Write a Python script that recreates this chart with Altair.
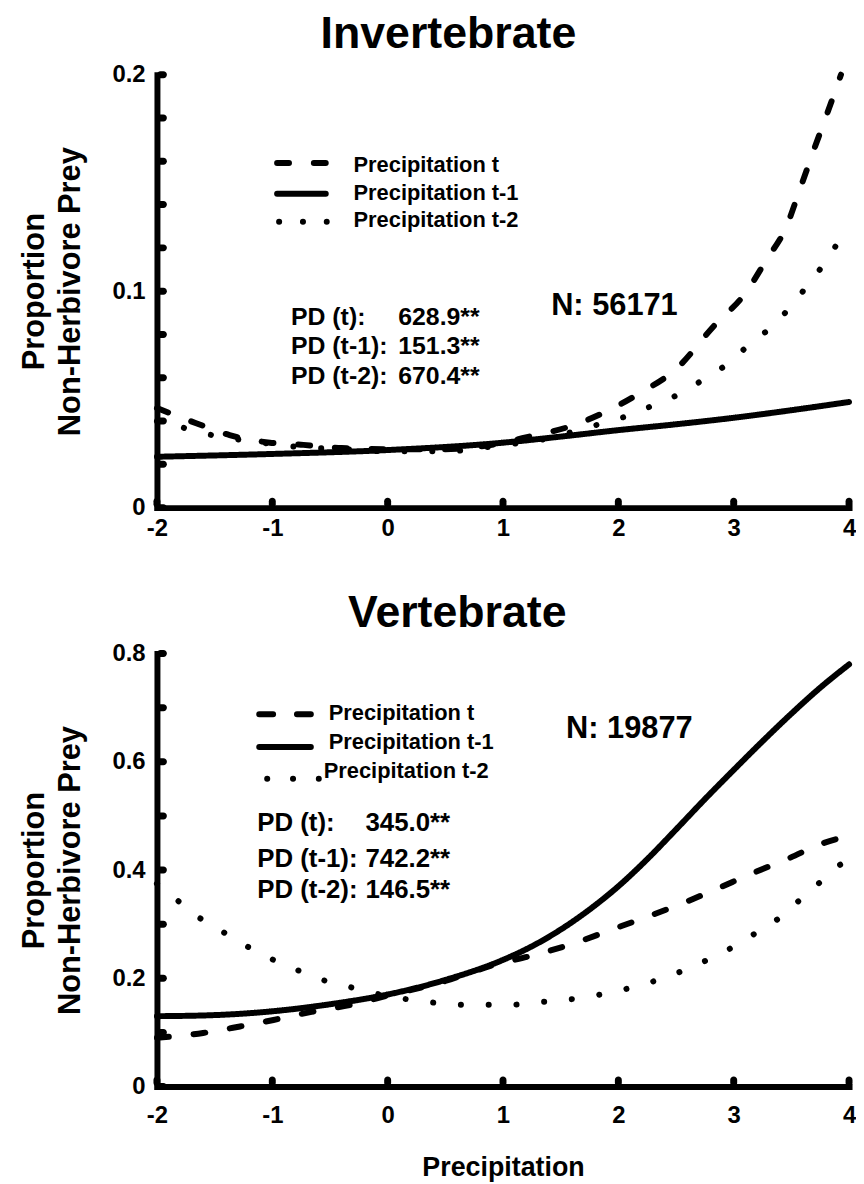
import altair as alt
import pandas as pd

FONT = "Liberation Sans"

# ---------------- data ----------------
series = ["Precipitation t", "Precipitation t-1", "Precipitation t-2"]
pd_labels = ["PD (t):", "PD (t-1):", "PD (t-2):"]

x_ticks = [-2, -1, 0, 1, 2, 3, 4]

# Invertebrate panel
inv_y_ticks = [0, 0.02, 0.04, 0.06, 0.08, 0.1, 0.12, 0.14, 0.16, 0.18, 0.2]
inv_y_labels = [0, 0.1, 0.2]
inv_t_x = [-2, -1.66, -1.37, -1.02, -0.73, -0.4, 0, 0.5, 1, 1.24, 1.55, 1.88, 2.19, 2.5, 2.83, 3.1, 3.29, 3.45, 3.58, 3.7, 3.81, 3.93]
inv_t_y = [0.046, 0.039, 0.0335, 0.030, 0.029, 0.0275, 0.027, 0.027, 0.030, 0.033, 0.037, 0.044, 0.053, 0.064, 0.084, 0.099, 0.115, 0.129, 0.148, 0.166, 0.182, 0.2]
inv_t1_x = [-2, -1, 0, 1, 1.5, 2, 2.5, 3, 3.5, 4]
inv_t1_y = [0.0235, 0.0248, 0.0266, 0.030, 0.0328, 0.0358, 0.0385, 0.0415, 0.045, 0.0488]
inv_t2_x = [-2, -1.82, -1.6, -1.19, -0.76, -0.4, 0, 0.5, 1, 1.3, 1.71, 1.93, 2.14, 2.33, 2.55, 2.76, 2.95, 3.14, 3.36, 3.57, 3.72, 3.85, 4]
inv_t2_y = [0.040, 0.0376, 0.0344, 0.0307, 0.028, 0.027, 0.026, 0.026, 0.029, 0.031, 0.0367, 0.040, 0.0435, 0.048, 0.053, 0.060, 0.0665, 0.0756, 0.085, 0.098, 0.108, 0.118, 0.131]
inv_pd_values = ["628.9**", "151.3**", "670.4**"]
inv_n = "N: 56171"

# Vertebrate panel
vert_y_ticks = [0, 0.1, 0.2, 0.3, 0.4, 0.5, 0.6, 0.7, 0.8]
vert_y_labels = [0, 0.2, 0.4, 0.6, 0.8]
vert_t_x = [-2, -1.6, -1.28, -0.99, -0.66, -0.32, 0, 0.5, 0.91, 1.27, 1.62, 1.93, 2.24, 2.55, 2.86, 3.15, 3.47, 3.78, 4]
vert_t_y = [0.09, 0.099, 0.111, 0.123, 0.138, 0.151, 0.168, 0.195, 0.224, 0.243, 0.265, 0.289, 0.313, 0.338, 0.366, 0.393, 0.421, 0.45, 0.463]
vert_t1_x = [-2, -1.5, -1, -0.5, 0, 0.5, 1, 1.25, 1.5, 1.75, 2, 2.25, 2.5, 2.75, 3, 3.25, 3.5, 3.75, 4]
vert_t1_y = [0.13, 0.132, 0.139, 0.152, 0.17, 0.197, 0.234, 0.259, 0.29, 0.327, 0.37, 0.42, 0.475, 0.531, 0.585, 0.638, 0.689, 0.737, 0.78]
vert_t2_x = [-2, -1.85, -1.66, -1.43, -1.21, -1.01, -0.78, -0.58, -0.38, -0.17, 0.24, 0.45, 0.66, 0.86, 1.07, 1.27, 1.48, 1.69, 1.89, 2.1, 2.3, 2.5, 2.71, 2.92, 3.13, 3.33, 3.52, 3.69, 3.89, 4]
vert_t2_y = [0.375, 0.349, 0.316, 0.286, 0.258, 0.236, 0.215, 0.198, 0.187, 0.175, 0.159, 0.154, 0.151, 0.151, 0.151, 0.155, 0.159, 0.164, 0.172, 0.182, 0.194, 0.209, 0.228, 0.249, 0.276, 0.301, 0.335, 0.366, 0.405, 0.42]
vert_pd_values = ["345.0**", "742.2**", "146.5**"]
vert_n = "N: 19877"


def curves_df(xs_list, ys_list):
    rows = []
    for name, xs, ys in zip(series, xs_list, ys_list):
        for i, (a, b) in enumerate(zip(xs, ys)):
            rows.append({"series": name, "x": a, "y": b, "i": i})
    return pd.DataFrame(rows)


def text_at(s, x, y, size, align="left"):
    return alt.Chart(pd.DataFrame({"t": [s]})).mark_text(
        align=align, baseline="middle", fontSize=size, fontWeight="bold",
        font=FONT, color="black"
    ).encode(x=alt.value(x), y=alt.value(y), text="t:N")


def rule_at(label, x0, x1, y, dash=None):
    kw = dict(strokeWidth=6, strokeCap="round", color="black")
    if dash is not None:
        kw["strokeDash"] = dash
    return alt.Chart(pd.DataFrame({"label": [label]})).mark_rule(**kw).encode(
        x=alt.value(x0), x2=alt.value(x1), y=alt.value(y)
    )


def panel(title, dx, df, y_dom, y_ticks, y_labels, x_title, x_lab_pad,
          legend, pd_pos, pd_vals, n_text, n_pos, pd_size):
    xs = alt.Scale(domain=[-2, 4], nice=False, zero=False)
    ys = alt.Scale(domain=y_dom, nice=False, zero=False)
    x_axis_kw = dict(values=x_ticks, labelExpr="'' + datum.value", labelPadding=x_lab_pad,
                     labelFlush=False, title=x_title)
    if x_title is not None:
        x_axis_kw["titlePadding"] = 28
    x_axis = alt.Axis(**x_axis_kw)
    y_axis = alt.Axis(values=y_labels, labelExpr="'' + datum.value", labelPadding=12,
                      labelFlush=False, title=["Proportion", "Non-Herbivore Prey"],
                      titlePadding=25.5)
    lines = alt.Chart(df).mark_line(
        strokeWidth=6, strokeCap="round", strokeJoin="round", color="black",
        interpolate="monotone"
    ).encode(
        x=alt.X("x:Q", scale=xs, axis=x_axis),
        y=alt.Y("y:Q", scale=ys, axis=y_axis),
        strokeDash=alt.StrokeDash("series:N", scale=alt.Scale(
            domain=series, range=[[12, 25], [1, 0], [0.1, 27.9]]), legend=None),
        order="i:Q",
    )
    ytk = alt.Chart(pd.DataFrame({"y": y_ticks})).mark_tick(
        orient="horizontal", size=10, thickness=7, cornerRadius=3.5, xOffset=5,
        color="black", opacity=1
    ).encode(x=alt.XDatum(-2, scale=xs, axis=x_axis, type="quantitative"),
             y=alt.Y("y:Q", scale=ys, axis=y_axis))
    xtk = alt.Chart(pd.DataFrame({"x": x_ticks})).mark_tick(
        orient="vertical", size=10, thickness=7, cornerRadius=3.5, yOffset=-5,
        color="black", opacity=1
    ).encode(x=alt.X("x:Q", scale=xs, axis=x_axis),
             y=alt.YDatum(0, scale=ys, axis=y_axis, type="quantitative"))

    layers = [lines, ytk, xtk]
    # legend
    (lx0, lx1, dashes, line_ys, lab_xs, lab_ys) = legend
    for name, d, (a, b), ly, tx, ty in zip(series, dashes, zip(lx0, lx1), line_ys, lab_xs, lab_ys):
        layers.append(rule_at(name, a, b, ly, d))
        layers.append(text_at(name, tx, ty, 22))
    # PD annotations
    (px_lab, px_val, pys) = pd_pos
    for lab, val, yy in zip(pd_labels, pd_vals, pys):
        layers.append(text_at(lab, px_lab, yy, pd_size))
        layers.append(text_at(val, px_val, yy, pd_size))
    layers.append(text_at(n_text, n_pos[0], n_pos[1], 31))

    return alt.layer(*layers).properties(
        width=697, height=436,
        title=alt.TitleParams(text=title, fontSize=45, font=FONT, fontWeight="bold",
                              color="black", anchor="middle", dx=dx, offset=-30,
                              baseline="alphabetic"),
    )


top = panel(
    "Invertebrate", -55,
    curves_df([inv_t_x, inv_t1_x, inv_t2_x], [inv_t_y, inv_t1_y, inv_t2_y]),
    [0, 0.2], inv_y_ticks, inv_y_labels, None, 9,
    ([121, 121, 123], [170, 170, 171], [[12, 25], None, [0.1, 23.9]],
     [89, 120, 148], [198, 198, 198], [91, 119, 146]),
    (135, 243, [244, 273, 303]), inv_pd_values, inv_n, (397, 233), 25,
)

bottom = panel(
    "Vertebrate", -46,
    curves_df([vert_t_x, vert_t1_x, vert_t2_x], [vert_t_y, vert_t1_y, vert_t2_y]),
    [0, 0.8], vert_y_ticks, vert_y_labels, "Precipitation", 17,
    ([103, 103, 111], [155, 155, 163], [[14, 24], None, [0.1, 25.9]],
     [61, 94, 126], [173, 173, 168], [60, 89, 118]),
    (101, 210, [171, 207, 238]), vert_pd_values, vert_n, (412, 76), 26,
)

chart = alt.vconcat(top, bottom, spacing=51).properties(
    padding={"left": 11, "top": 0, "right": 0, "bottom": 0}
).configure_view(stroke=None).configure_axis(
    domainWidth=6, domainColor="black", domainCap="square", ticks=False, tickSize=0,
    grid=False, labelFont=FONT, labelFontSize=24, labelFontWeight="bold", labelColor="black",
    titleFont=FONT, titleFontWeight="bold", titleColor="black", titleFontSize=31,
    titleLineHeight=36,
).configure_axisX(titleFontSize=27)

chart.save("out.html", embed_options={"renderer": "svg", "actions": False})
